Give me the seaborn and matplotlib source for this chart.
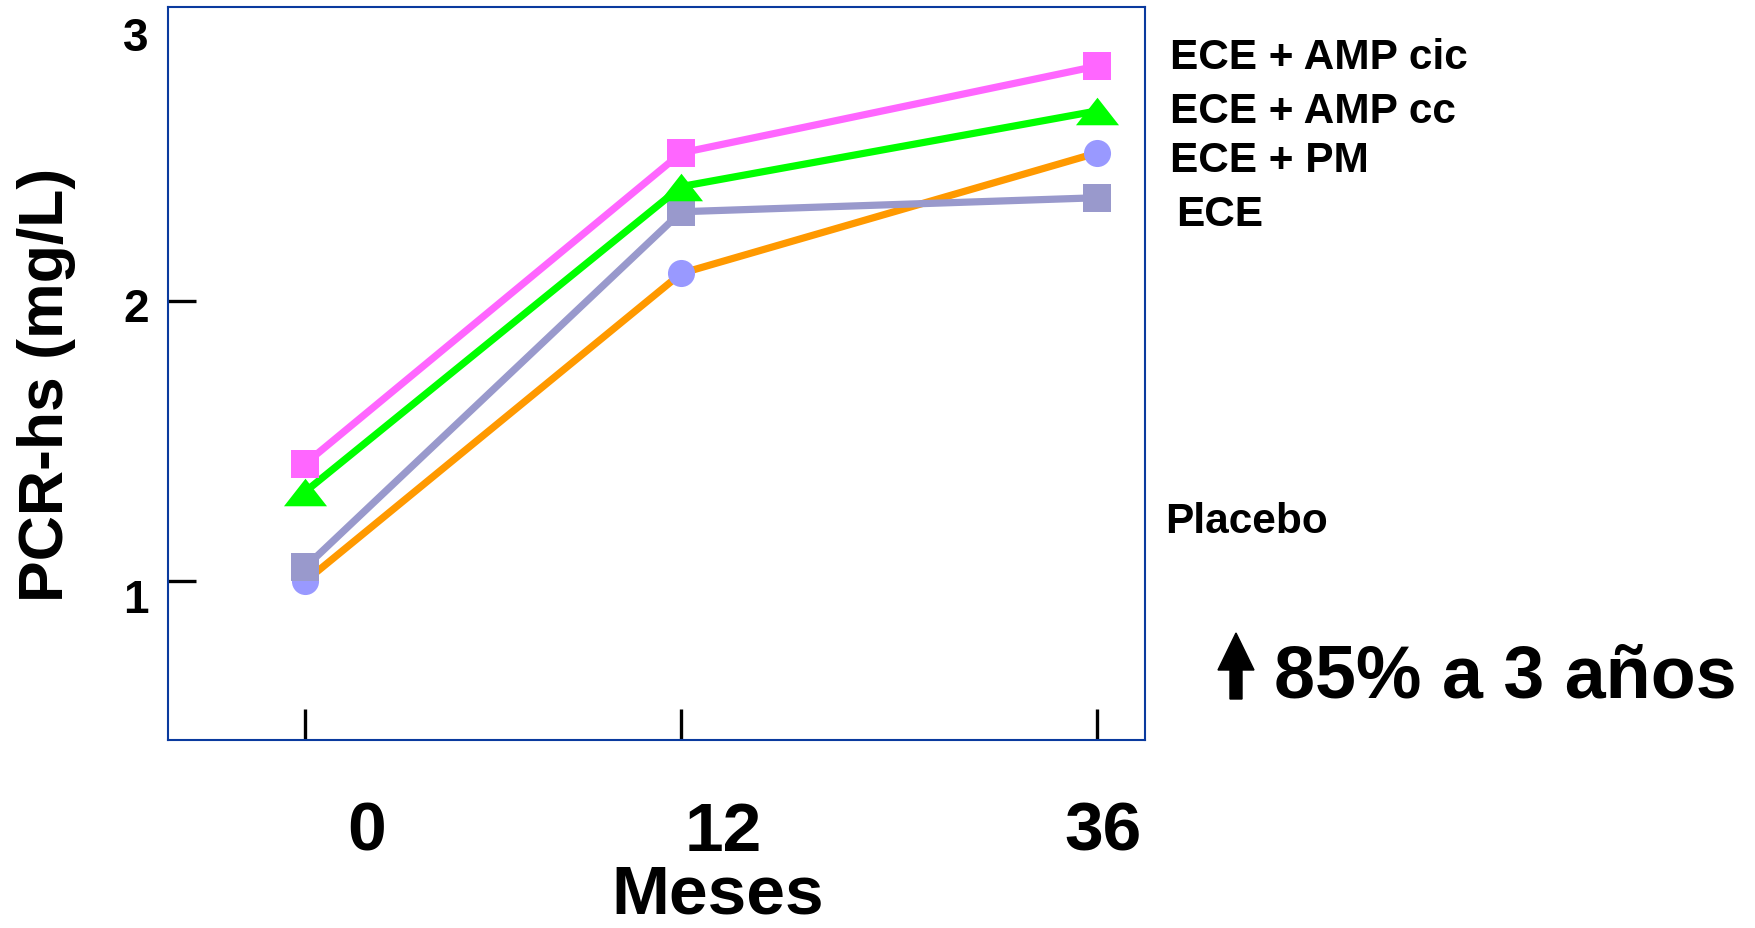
import matplotlib
matplotlib.use("Agg")
import matplotlib.pyplot as plt
import matplotlib.transforms as mtransforms
from matplotlib import font_manager
from matplotlib.patches import FancyArrow
import seaborn as sns
import pandas as pd

# ---------------- data ----------------
months = ["0", "12", "36"]
groups = ["ECE + AMP cic", "ECE + AMP cc", "ECE + PM", "ECE"]
pcr_amp_cic = [1.42, 2.53, 2.84]
pcr_amp_cc = [1.32, 2.41, 2.68]
pcr_pm = [1.00, 2.10, 2.53]
pcr_ece = [1.05, 2.32, 2.37]
label_placebo = "Placebo"
y_ticks = [1, 2, 3]
annotation = "85% a 3 años"
x_label = "Meses"
y_label = "PCR-hs (mg/L)"

# layout: slot of each month along the (categorical) x axis, as drawn in the original
month_slots = [0, 0.95, 2]

W, H, DPI = 1756, 929, 100
sns.set_theme(style="white")
avail = {f.name for f in font_manager.fontManager.ttflist}
main_font = "Liberation Sans" if "Liberation Sans" in avail else "DejaVu Sans"
narrow_font = "Liberation Sans Narrow" if "Liberation Sans Narrow" in avail else main_font
plt.rcParams["font.family"] = [main_font, "DejaVu Sans"]
plt.rcParams["font.weight"] = "bold"
for k in ["text.color", "axes.labelcolor", "xtick.color", "ytick.color"]:
    plt.rcParams[k] = "black"

df = pd.DataFrame({
    "month": months * len(groups),
    "pos": month_slots * len(groups),
    "group": sum([[g] * len(months) for g in groups], []),
    "pcr": pcr_amp_cic + pcr_amp_cc + pcr_pm + pcr_ece,
})

fig = plt.figure(figsize=(W / DPI, H / DPI), dpi=DPI)
ax = fig.add_axes([168 / W, 1 - 741 / H, (1145 - 168) / W, (741 - 8) / H])

tri = [(-1, -0.64), (1, -0.64), (0, 0.64)]
styles = {
    "ECE + PM": dict(color="#FF9900", marker="o", mfc="#9999FF", ms=19.5),
    "ECE": dict(color="#9999CC", marker="s", mfc="#9999CC", ms=20),
    "ECE + AMP cc": dict(color="#00FF00", marker=tri, mfc="#00FF00", ms=31),
    "ECE + AMP cic": dict(color="#FF66FF", marker="s", mfc="#FF66FF", ms=20),
}
for g in ["ECE + PM", "ECE", "ECE + AMP cc", "ECE + AMP cic"]:
    st = styles[g]
    sns.lineplot(data=df[df.group == g], x="pos", y="pcr", ax=ax,
                 color=st["color"], lw=5.2, marker=st["marker"],
                 markersize=st["ms"], markerfacecolor=st["mfc"],
                 markeredgewidth=0, errorbar=None, legend=False)

ax.set_xlim(-0.346, 2.121)
ax.set_ylim(0.434, 3.051)
ax.set_xticks(month_slots)
ax.set_xticklabels(months, fontfamily=narrow_font, fontsize=50, fontweight="bold",
                   color="black")
ax.set_yticks(y_ticks)
ax.set_yticklabels([str(t) for t in y_ticks], fontsize=33, fontweight="bold",
                   color="black")
ax.tick_params(axis="x", direction="in", length=22, width=2.4, color="black",
               pad=43, bottom=True)
ax.tick_params(axis="y", direction="in", length=20, width=2.4, color="black",
               pad=14, left=True)
ax.yaxis.get_major_ticks()[-1].tick1line.set_visible(False)

for lab, dx in zip(ax.get_xticklabels(), [62, 42, 6]):
    lab.set_transform(lab.get_transform() +
                      mtransforms.ScaledTranslation(dx / DPI, 0, fig.dpi_scale_trans))
for lab, dy in zip(ax.get_yticklabels(), [-14, -3, -12]):
    lab.set_transform(lab.get_transform() +
                      mtransforms.ScaledTranslation(0, dy / DPI, fig.dpi_scale_trans))

for sp in ax.spines.values():
    sp.set_color("#0A3A9E")
    sp.set_linewidth(1.5)

ax.set_xlabel(x_label, fontfamily=narrow_font, fontsize=50, fontweight="bold",
              color="black")
ax.xaxis.set_label_coords((718 - 168) / 977, (741 - 896) / 733)
ax.xaxis.label.set_va("center")
ax.set_ylabel(y_label, fontsize=45, fontweight="bold", color="black")
ax.yaxis.set_label_coords((47 - 168) / 977, (741 - 385) / 733)
ax.yaxis.label.set_va("center")

# overlay for annotations (pixel coordinates)
ov = fig.add_axes([0, 0, 1, 1])
ov.set_xlim(0, W)
ov.set_ylim(H, 0)
ov.axis("off")
ov.patch.set_alpha(0)

for g, (x, y) in zip(groups, [(1170, 69), (1170, 123), (1170, 172), (1176, 226)]):
    ov.text(x, y, g, fontsize=30.5, fontweight="bold", va="baseline", ha="left", color="black")
ov.text(1165, 533, label_placebo, fontsize=30.5, fontweight="bold", va="baseline",
        ha="left", color="black")
ov.text(1274, 698, annotation, fontsize=53, fontweight="bold", va="baseline",
        ha="left", color="black")
ov.add_patch(FancyArrow(1236, 700, 0, -66, width=12, head_width=36, head_length=37,
                        length_includes_head=True, color="black"))

fig.savefig("out.png", dpi=DPI)
